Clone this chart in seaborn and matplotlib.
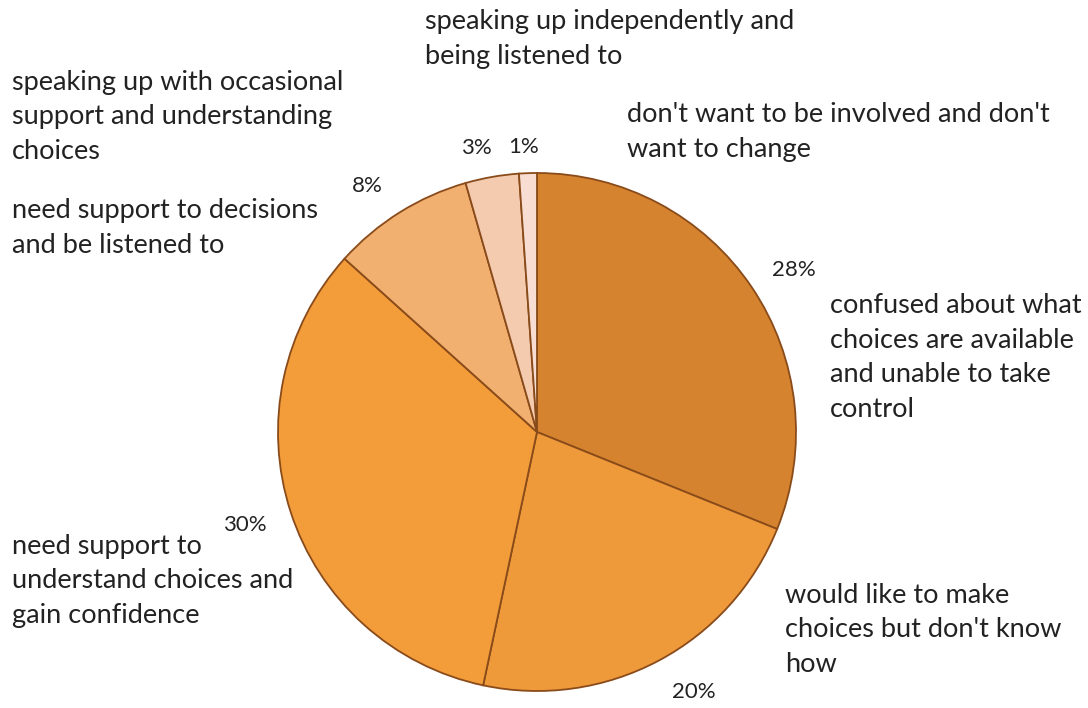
import matplotlib
matplotlib.use("Agg")
import matplotlib.pyplot as plt
import seaborn as sns

sns.set_theme(style="white")
plt.rcParams["font.family"] = ["Lato", "DejaVu Sans"]

# Share of people at each stage (clockwise from 12 o'clock)
values = [28, 20, 30, 8, 3, 1]
colors = ["#D5832E", "#EE993A", "#F29C3A", "#F1AF70", "#F5CBB0", "#F8DED2"]

# Percentage label anchors (pixel space, y measured from top)
pct_pos = [(794, 270), (694, 692), (245, 525), (367, 186), (476, 148), (524, 147)]

categories = [
    "speaking up independently and\nbeing listened to",
    "don't want to be involved and don't\nwant to change",
    "speaking up with occasional\nsupport and understanding\nchoices",
    "need support to decisions\nand be listened to",
    "confused about what\nchoices are available\nand unable to take\ncontrol",
    "need support to\nunderstand choices and\ngain confidence",
    "would like to make\nchoices but don't know\nhow",
]
# last-line baseline of each category label
cat_pos = [(425, 64), (627, 157), (12, 159), (12, 253), (830, 417), (12, 623), (785, 672)]

W, H = 1088, 708
fig = plt.figure(figsize=(W / 100, H / 100), dpi=100)
ax = fig.add_axes([0, 0, 1, 1])

ax.pie(values, colors=colors, startangle=90, counterclock=False,
       center=(537, H - 432), radius=259,
       wedgeprops=dict(edgecolor="#8A4B1A", linewidth=1.3))

ax.set_xlim(0, W)
ax.set_ylim(0, H)
ax.set_aspect("equal")
ax.axis("off")

for v, (x, y) in zip(values, pct_pos):
    ax.text(x, H - y, f"{v}%", ha="center", va="center",
            fontsize=16, color="#222222")

for txt, (x, y) in zip(categories, cat_pos):
    ax.text(x, H - y, txt, ha="left", va="baseline", fontsize=19.5,
            color="#222222", linespacing=1.48)

fig.savefig("out.png", dpi=100, facecolor="white")
